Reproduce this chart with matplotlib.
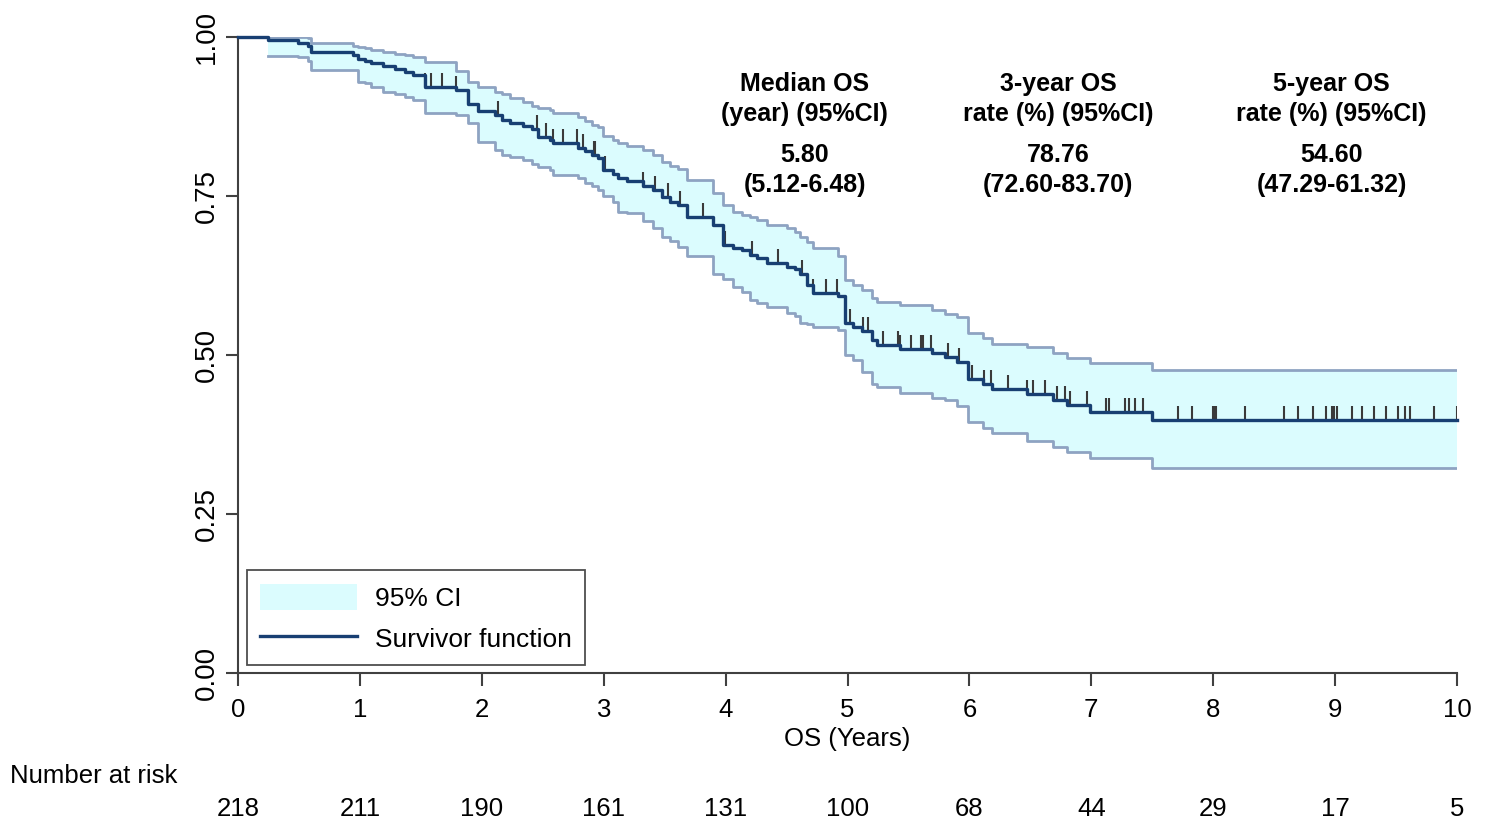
import numpy as np
import matplotlib
matplotlib.use("Agg")
import matplotlib.pyplot as plt
from matplotlib.patches import Patch
from matplotlib.lines import Line2D
from matplotlib.transforms import blended_transform_factory

plt.rcParams["font.family"] = ["Liberation Sans", "DejaVu Sans"]

# Kaplan-Meier steps (years, survival, 95% CI)
step_t = [0.0, 0.246, 0.492, 0.574, 0.599, 0.943, 0.984, 1.042, 1.091, 1.19,
          1.288, 1.37, 1.436, 1.534, 1.788, 1.887, 1.969, 2.108, 2.166, 2.231,
          2.338, 2.412, 2.461, 2.559, 2.584, 2.789, 2.847, 2.904, 2.953, 2.994,
          3.076, 3.117, 3.191, 3.322, 3.404, 3.478, 3.544, 3.609, 3.683, 3.897,
          3.979, 4.061, 4.135, 4.2, 4.258, 4.34, 4.504, 4.569, 4.61, 4.668,
          4.717, 4.922, 4.979, 5.045, 5.119, 5.2, 5.242, 5.431, 5.693, 5.8,
          5.898, 5.988, 6.112, 6.185, 6.473, 6.686, 6.801, 6.989, 7.498]
surv = [1.0, 0.995, 0.991, 0.986, 0.977, 0.972, 0.966, 0.963, 0.959, 0.954,
        0.949, 0.945, 0.941, 0.922, 0.916, 0.895, 0.883, 0.877, 0.870, 0.864,
        0.860, 0.855, 0.843, 0.838, 0.834, 0.825, 0.820, 0.814, 0.809, 0.791,
        0.785, 0.779, 0.774, 0.766, 0.759, 0.749, 0.741, 0.736, 0.717, 0.704,
        0.673, 0.669, 0.665, 0.657, 0.653, 0.644, 0.639, 0.635, 0.628, 0.610,
        0.598, 0.593, 0.550, 0.544, 0.537, 0.524, 0.516, 0.510, 0.503, 0.497,
        0.489, 0.462, 0.455, 0.447, 0.439, 0.429, 0.421, 0.411, 0.398]
ci_hi = [1.0, 1.0, 1.0, 0.998, 0.991, 0.986, 0.984, 0.982, 0.980, 0.976,
         0.973, 0.971, 0.969, 0.960, 0.946, 0.930, 0.922, 0.914, 0.910, 0.904,
         0.898, 0.892, 0.888, 0.885, 0.880, 0.875, 0.868, 0.862, 0.858, 0.845,
         0.838, 0.833, 0.828, 0.822, 0.815, 0.804, 0.797, 0.792, 0.775, 0.755,
         0.736, 0.725, 0.720, 0.717, 0.713, 0.705, 0.699, 0.694, 0.686, 0.678,
         0.668, 0.655, 0.618, 0.610, 0.602, 0.590, 0.584, 0.579, 0.571, 0.565,
         0.560, 0.534, 0.527, 0.518, 0.513, 0.503, 0.495, 0.487, 0.476]
ci_lo = [1.0, 0.970, 0.968, 0.962, 0.948, 0.948, 0.930, 0.927, 0.922, 0.914,
         0.910, 0.906, 0.901, 0.880, 0.877, 0.865, 0.835, 0.822, 0.815, 0.812,
         0.807, 0.800, 0.796, 0.791, 0.783, 0.778, 0.770, 0.765, 0.760, 0.750,
         0.740, 0.725, 0.723, 0.710, 0.699, 0.686, 0.680, 0.670, 0.655, 0.628,
         0.620, 0.607, 0.599, 0.586, 0.582, 0.576, 0.566, 0.561, 0.550, 0.548,
         0.544, 0.540, 0.500, 0.492, 0.474, 0.455, 0.450, 0.440, 0.432, 0.429,
         0.420, 0.395, 0.385, 0.378, 0.365, 0.355, 0.347, 0.338, 0.322]

# censored observations (years)
censor_t = [1.534, 1.583, 1.673, 1.788, 1.887, 2.133, 2.453, 2.527, 2.584, 2.666,
            2.781, 2.830, 2.920, 2.929, 3.011, 3.322, 3.421, 3.527, 3.626, 3.815,
            3.995, 4.217, 4.43, 4.627, 4.717, 4.824, 4.914, 5.02, 5.127, 5.168,
            5.291, 5.414, 5.431, 5.521, 5.603, 5.619, 5.685, 5.824, 5.915, 6.021,
            6.12, 6.177, 6.317, 6.473, 6.522, 6.62, 6.719, 6.784, 6.825, 6.965,
            7.121, 7.145, 7.276, 7.309, 7.358, 7.424, 7.712, 7.826, 7.998, 8.007,
            8.023, 8.261, 8.581, 8.696, 8.819, 8.925, 8.975, 8.991, 9.016, 9.139,
            9.221, 9.319, 9.418, 9.516, 9.573, 9.614, 9.811, 10.0]

risk_years = [0, 1, 2, 3, 4, 5, 6, 7, 8, 9, 10]
at_risk = [218, 211, 190, 161, 131, 100, 68, 44, 29, 17, 5]

stat_headers = ["Median OS\n(year) (95%CI)", "3-year OS\nrate (%) (95%CI)", "5-year OS\nrate (%) (95%CI)"]
stat_values = ["5.80\n(5.12-6.48)", "78.76\n(72.60-83.70)", "54.60\n(47.29-61.32)"]
stat_x = [4.65, 6.73, 8.97]

C_FILL = "#dbfcfe"
C_CI = "#8ea3c2"
C_SURV = "#183f72"
C_AXIS = "#404040"
FS = 18.5

t_end = 10.0
t = np.append(step_t, t_end)
s = np.append(surv, surv[-1])
hi = np.append(ci_hi, ci_hi[-1])
lo = np.append(ci_lo, ci_lo[-1])

fig = plt.figure(figsize=(14.89, 8.23), dpi=100)
ax = fig.add_axes([238 / 1489, 1 - 673 / 823, 1219 / 1489, 636 / 823])

band = slice(1, None)
ax.fill_between(t[band], lo[band], hi[band], step="post", color=C_FILL, lw=0, zorder=1)
ax.plot(t[band], hi[band], drawstyle="steps-post", color=C_CI, lw=2, zorder=2)
ax.plot(t[band], lo[band], drawstyle="steps-post", color=C_CI, lw=2, zorder=2)
ax.plot(t, s, drawstyle="steps-post", color=C_SURV, lw=2.4, zorder=4, clip_on=False)

# censor ticks sit on the curve
idx = np.searchsorted(step_t, censor_t, side="right") - 1
cs = np.array(surv)[idx]
ax.vlines(censor_t, cs, cs + 0.022, color="#3a3a3a", lw=1.5, zorder=3)

ax.set_xlim(0, 10)
ax.set_ylim(0, 1)
ax.set_xticks(range(0, 11))
ax.set_yticks([0, 0.25, 0.5, 0.75, 1.0])
ax.set_yticklabels(["0.00", "0.25", "0.50", "0.75", "1.00"])
for side in ["top", "right"]:
    ax.spines[side].set_visible(False)
for side in ["left", "bottom"]:
    ax.spines[side].set_color(C_AXIS)
    ax.spines[side].set_linewidth(1.5)
ax.tick_params(axis="both", colors=C_AXIS, labelcolor="black", labelsize=FS,
               length=9, width=1.5)
ax.tick_params(axis="x", pad=9)
ax.tick_params(axis="y", labelrotation=90, labelsize=20, pad=4)
for lab in ax.get_yticklabels():
    lab.set_va("center")
ax.set_xlabel("OS (Years)", fontsize=FS, labelpad=3.5)

for x, h, v in zip(stat_x, stat_headers, stat_values):
    ax.text(x, 0.903, h, ha="center", va="center", fontsize=18,
            fontweight="bold", linespacing=1.32)
    ax.text(x, 0.791, v, ha="center", va="center", fontsize=18,
            fontweight="bold", linespacing=1.32)

handles = [Patch(facecolor=C_FILL, edgecolor="none"),
           Line2D([], [], color=C_SURV, lw=2.4)]
leg = ax.legend(handles, ["95% CI", "Survivor function"], loc="lower left",
                bbox_to_anchor=(0.007, 0.012), fontsize=19, frameon=True,
                fancybox=False, edgecolor="#222222", handlelength=3.7,
                handleheight=1.15, handletextpad=0.65, borderpad=0.5,
                labelspacing=0.55, borderaxespad=0)
leg.get_frame().set_linewidth(1.3)

# number at risk table
tr = blended_transform_factory(ax.transData, fig.transFigure)
fig.text(10 / 1489, 1 - 776 / 823, "Number at risk", fontsize=FS, ha="left", va="center")
for x, n in zip(risk_years, at_risk):
    ax.text(x, 1 - 809 / 823, str(n), transform=tr, fontsize=FS,
            ha="center", va="center")

fig.savefig("out.png", dpi=100, facecolor="white")
